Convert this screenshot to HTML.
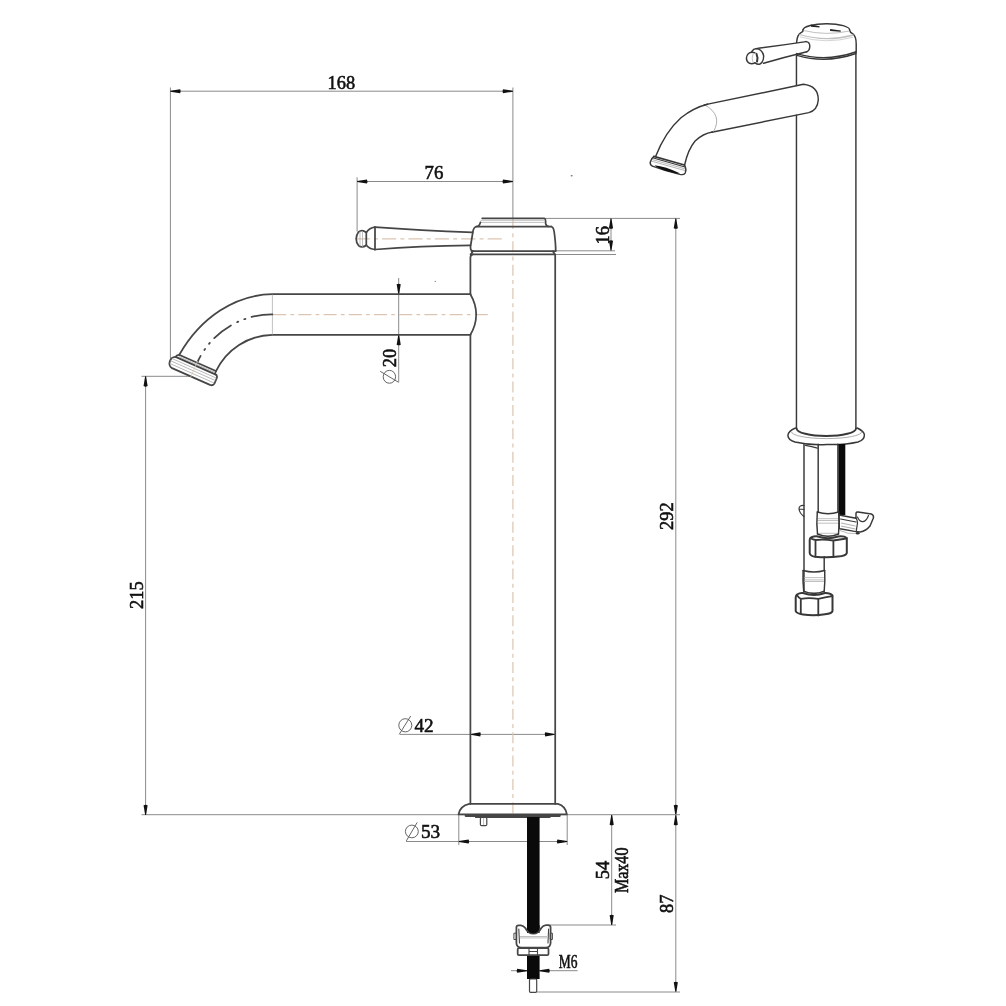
<!DOCTYPE html>
<html><head><meta charset="utf-8"><style>
html,body{margin:0;padding:0;background:#fff;width:1006px;height:1006px;overflow:hidden}
svg{display:block;will-change:transform}
.o{fill:none;stroke:#464646;stroke-width:1.75;stroke-linejoin:round;stroke-linecap:round}
.d{fill:none;stroke:#8a8a8a;stroke-width:1}
.g{fill:none;stroke:#b0b0b0;stroke-width:0.8}
.c{fill:none;stroke:#dcc6b2;stroke-width:1.2;stroke-dasharray:11 4.2 4 4.17}
.a{fill:#111;stroke:none}
.v3 .o{stroke:#383838;stroke-width:1.45}
.t{font-family:"Liberation Serif",serif;font-size:19.8px;fill:#111;stroke:#111;stroke-width:0.6}
.dm{fill:none;stroke:#555;stroke-width:0.9}
</style></head><body>
<svg width="1006" height="1006" viewBox="0 0 1006 1006">
<defs>
<path id="ar" d="M0 -0.45 L-9.8 -2.05 Q-10.9 0 -9.8 2.05 L0 0.45 Z"/>
</defs>

<!-- ============ 2D VIEW ============ -->
<!-- dim 168 -->
<line class="d" x1="170.4" y1="87.5" x2="170.4" y2="361"/>
<line class="d" x1="512.9" y1="87.5" x2="512.9" y2="218"/>
<line class="d" x1="170.4" y1="91.2" x2="512.9" y2="91.2"/>
<use href="#ar" class="a" transform="translate(170.4,91.2) rotate(180)"/>
<use href="#ar" class="a" transform="translate(512.9,91.2)"/>
<text class="t" transform="translate(327.5,88.5) scale(0.93,1)">168</text>

<!-- dim 76 -->
<line class="d" x1="357.1" y1="177.3" x2="357.1" y2="231.5"/>
<line class="d" x1="357.1" y1="181.5" x2="512.9" y2="181.5"/>
<use href="#ar" class="a" transform="translate(357.1,181.5) rotate(180)"/>
<use href="#ar" class="a" transform="translate(512.9,181.5)"/>
<text class="t" transform="translate(424.5,179.2) scale(0.95,1)">76</text>

<!-- dim 16 -->
<line class="d" x1="545" y1="218.4" x2="680" y2="218.4"/>
<line class="d" x1="556" y1="250.8" x2="615" y2="250.8"/>
<line class="d" x1="556" y1="254.5" x2="616" y2="254.5"/>
<line class="d" x1="611" y1="218.4" x2="611" y2="250.6"/>
<use href="#ar" class="a" transform="translate(611,218.4) rotate(-90)"/>
<use href="#ar" class="a" transform="translate(611,250.6) rotate(90)"/>
<text class="t" transform="translate(608.7,244.5) rotate(-90) scale(0.93,1)">16</text>

<!-- dim 292 / 87 -->
<line class="d" x1="675.8" y1="218.4" x2="675.8" y2="992"/>
<use href="#ar" class="a" transform="translate(675.8,218.4) rotate(-90)"/>
<use href="#ar" class="a" transform="translate(675.8,815) rotate(90)"/>
<use href="#ar" class="a" transform="translate(675.8,815) rotate(-90)"/>
<use href="#ar" class="a" transform="translate(675.8,992) rotate(90)"/>
<text class="t" transform="translate(673.2,530) rotate(-90) scale(0.93,1)">292</text>
<text class="t" transform="translate(673.2,913) rotate(-90) scale(0.93,1)">87</text>
<line class="d" x1="537" y1="992" x2="680" y2="992"/>

<!-- floor line -->
<line class="d" x1="141.5" y1="814.7" x2="680" y2="814.7"/>

<!-- dim 215 -->
<line class="d" x1="141.5" y1="376.3" x2="191" y2="376.3"/>
<line class="d" x1="145.6" y1="376.3" x2="145.6" y2="815"/>
<use href="#ar" class="a" transform="translate(145.6,376.3) rotate(-90)"/>
<use href="#ar" class="a" transform="translate(145.6,815) rotate(90)"/>
<text class="t" transform="translate(143,609) rotate(-90) scale(0.93,1)">215</text>

<!-- dim 54 Max40 -->
<line class="d" x1="550" y1="925" x2="616" y2="925"/>
<line class="d" x1="611.7" y1="815" x2="611.7" y2="925"/>
<use href="#ar" class="a" transform="translate(611.7,815) rotate(-90)"/>
<use href="#ar" class="a" transform="translate(611.7,925) rotate(90)"/>

<!-- dim M6 -->
<line class="d" x1="511" y1="970.7" x2="527" y2="970.7"/>
<line class="d" x1="539.4" y1="970.7" x2="577.6" y2="970.7"/>
<use href="#ar" class="a" transform="translate(527,970.7)"/>
<use href="#ar" class="a" transform="translate(539.4,970.7) rotate(180)"/>
<text class="t" transform="translate(558.8,968) scale(0.68,1)">M6</text>

<!-- dim Ø20 -->
<line class="d" x1="398.7" y1="278" x2="398.7" y2="382.4"/>
<use href="#ar" class="a" transform="translate(398.7,294) rotate(90)"/>
<use href="#ar" class="a" transform="translate(398.7,335) rotate(-90)"/>

<!-- dim Ø42 -->
<line class="d" x1="400" y1="734.4" x2="555" y2="734.4"/>
<use href="#ar" class="a" transform="translate(470.5,734.4) rotate(180)"/>
<use href="#ar" class="a" transform="translate(555,734.4)"/>
<text class="t" transform="translate(414.5,731.8) scale(0.97,1)">42</text>

<!-- dim Ø53 -->
<line class="d" x1="458.8" y1="815" x2="458.8" y2="845"/>
<line class="d" x1="567.2" y1="815" x2="567.2" y2="845"/>
<line class="d" x1="406" y1="841.5" x2="567.2" y2="841.5"/>
<use href="#ar" class="a" transform="translate(458.8,841.5) rotate(180)"/>
<use href="#ar" class="a" transform="translate(567.2,841.5)"/>
<text class="t" transform="translate(421,838.2) scale(0.97,1)">53</text>

<!-- centre lines -->
<line class="c" x1="512.9" y1="218" x2="512.9" y2="815"/>
<line class="c" style="stroke-dasharray:13 4.3 3.6 4.3" x1="487.8" y1="314.6" x2="272" y2="314.6"/>
<line class="c" style="stroke-dasharray:14.2 4.1 3.9 4.2" x1="501.8" y1="238.8" x2="355.5" y2="238.8"/>

<!-- body -->
<path class="o" d="M470.4 294.2 L470.4 257.5 Q470.6 254.4 473 254.3 M470.4 334.8 L470.4 803.9"/>
<path class="o" d="M555.2 255 L555.2 803.9"/>
<!-- cap -->
<path class="o" d="M482.2 218.3 L544.3 218.3 Q545.6 218.6 545.6 221 L545.6 223.5 Q546 226.3 549 226.5"/>
<line class="g" x1="480.5" y1="220.3" x2="544.5" y2="220.3"/>
<line class="g" x1="480.5" y1="222.4" x2="544.5" y2="222.4"/>
<path class="o" d="M480.4 222.4 Q479.5 226.3 476.5 226.5 Q473.5 227 472.8 232.4 L470.5 246.5 Q470.3 251 473 251.1"/>
<line class="o" x1="476" y1="226.5" x2="551.3" y2="226.5"/>
<path class="o" d="M551.3 226.5 Q553.5 227 554.2 232 Q555.7 243 555.7 250.5"/>
<line class="o" x1="471.5" y1="251.1" x2="555.7" y2="251.1"/>
<path class="o" d="M472.8 251.3 L471 254.2 M552.8 251.3 L554.8 254.2"/>
<line class="o" x1="470.5" y1="254.3" x2="555" y2="254.3"/>
<!-- lever -->
<path class="o" d="M366.3 232.5 Q362 229 358.5 232 Q356.2 235 356.2 238.8 Q356.2 243 358.5 245.5 Q362 248.5 366.3 245.3 Z"/>
<line class="g" x1="362.5" y1="231" x2="362.5" y2="246.8"/>
<line class="g" x1="360" y1="231.5" x2="360" y2="246.3"/>
<path class="o" d="M366.3 232.5 Q369.5 228 374.8 227.2 M366.3 245.3 Q369.5 249.2 374.8 249.5"/>
<line class="o" x1="375" y1="227.2" x2="375" y2="249.5"/>
<path class="o" d="M375 227.2 Q420 230.5 472.6 232.4 M375 249.5 Q420 246 470.4 245.4"/>
<!-- spout -->
<path class="o" d="M470.4 294.2 L272.4 294.2 A116 145 0 0 0 179.3 354.8"/>
<path class="o" d="M470.4 334.8 L272.4 334.8 A64 64 0 0 0 216 371.2"/>
<path class="o" d="M470.4 294.2 Q482 314.5 470.4 334.8"/>
<line class="g" x1="272.4" y1="294.5" x2="272.4" y2="334.6"/>
<path class="o" style="stroke-dasharray:21 6.5 1.2 6.5 1.2 7" d="M272.4 314.4 A82 82 0 0 0 198 361"/>
<!-- tip ring -->
<g transform="translate(196,365.85) rotate(23.8)">
<path class="o" d="M-20 -3.3 L20.3 -3.3 L20.6 0 M-20 -3.3 Q-22.3 -2 -22.3 0"/>
<line class="g" x1="-19.5" y1="-1.6" x2="20" y2="-1.6"/>
<line class="o" style="stroke-width:1.8" x1="-22.3" y1="0" x2="22.3" y2="0"/>
<path class="o" d="M-22.5 0.2 Q-26 2 -25.8 6 Q-25.5 11.3 -21 11.8 L20.5 11.8 Q24 11.5 24 8.5 L24 3.5 Q24 0.8 22.3 0.2"/>
<line class="g" x1="-25" y1="3" x2="23.5" y2="3"/>
<line class="g" x1="-25.3" y1="5.6" x2="23.5" y2="5.6"/>
<line class="g" x1="-25" y1="8.4" x2="23.5" y2="8.4"/>
</g>
<line class="c" x1="190.5" y1="377.5" x2="197.5" y2="361.5" style="stroke-dasharray:none;stroke-width:0.8"/>
<!-- base -->
<path class="o" d="M469.3 803.9 L557.9 803.9 Q565.5 806 566.9 814.4 L458.5 814.4 Q460 806 469.3 803.9 Z"/>
<path class="o" style="stroke-width:2.2" d="M465.7 815.8 L559.7 815.8"/>
<path class="o" style="stroke-width:1.8" d="M475.9 817.2 L549.6 817.2"/>
<rect class="o" x="480.4" y="817.5" width="6.4" height="8.2" rx="1.2" style="stroke-width:1.2"/>
<line class="g" x1="483.6" y1="818" x2="483.6" y2="825"/>
<!-- threaded rod -->
<rect x="527" y="817" width="12.6" height="116" rx="0" fill="#0a0a0a"/>
<rect x="527" y="955" width="12.6" height="24" fill="#0a0a0a"/>
<rect class="o" x="529.5" y="979" width="7.2" height="13.3" rx="1" style="stroke-width:1.2"/>
<!-- bracket -->
<path class="o" d="M516.4 927.5 Q516.4 925.3 518.6 925.3 L521 925.3 Q523.5 925.5 525.3 928 Q528 933.5 533.3 933.6 Q538.5 933.5 541.3 928 Q543 925.4 546 925.2 L548.5 925.2 Q550.6 925.4 550.6 927.5 L550.6 943 Q550.3 947.5 546 947.5 L521.5 947.5 Q516.4 947.5 516.4 943 Z" fill="#fff"/>
<path fill="#0a0a0a" d="M527 925 L539.6 925 L539.6 928 Q538.5 933.2 533.3 933.4 Q528 933.2 527 928 Z"/>
<path class="o" style="stroke-width:1.1" d="M518.8 929 L519.5 943 M548.6 929 L548 943"/>
<line class="g" x1="520" y1="936.5" x2="547" y2="936.5"/>
<line class="g" x1="520" y1="937.9" x2="547" y2="937.9"/>
<rect class="o" x="514.3" y="933.2" width="2.1" height="6.3" style="stroke-width:1"/>
<rect class="o" x="550.6" y="933.2" width="1.8" height="6.3" style="stroke-width:1"/>
<rect class="o" x="517.7" y="948" width="30.8" height="7.2" rx="1.2" fill="#fff"/>
<path class="o" style="stroke-width:1.1" d="M529 948.2 L529 955 M537.5 948.2 L537.5 955 M529 951.5 L537.5 951.5"/>

<!-- diameter symbols -->
<g class="dm" transform="translate(405.3,725.3)"><ellipse rx="6.5" ry="6.6"/><line x1="-6.1" y1="9.1" x2="5.4" y2="-9.3"/></g>
<g class="dm" transform="translate(411.85,831.45)"><ellipse rx="6.45" ry="6.35"/><line x1="-5.55" y1="9.45" x2="5.35" y2="-9.05"/></g>
<g class="dm" transform="translate(389.4,376.8)"><ellipse rx="6.2" ry="6.45"/><line x1="9" y1="5.4" x2="-9.2" y2="-5.5"/></g>
<text class="t" transform="translate(396.3,367.2) rotate(-90) scale(0.93,1)">20</text>
<text class="t" transform="translate(609.2,879.3) rotate(-90) scale(0.93,1)">54</text>
<text class="t" transform="translate(627.8,893) rotate(-90) scale(0.81,1)">Max40</text>

<ellipse cx="571.7" cy="175.8" rx="1.1" ry="0.8" fill="#777"/>
<ellipse cx="435.3" cy="281.4" rx="0.8" ry="0.7" fill="#999"/>
<!-- ============ 3D VIEW ============ -->
<g class="v3">
<!-- body -->
<path class="o" d="M796.45 54 L796.45 85.5 M796.45 115.3 L796.45 428.6"/>
<path class="o" d="M855.9 51.5 L855.9 428.6"/>
<!-- cap -->
<path class="o" d="M803 30 A23.35 6.5 0 0 1 849.7 30.3"/>
<path class="o" d="M803 29.8 Q803.5 31.6 801 32.6 Q797.2 34.5 796.6 42.5 M849.7 30.3 Q850 32.5 852.6 33.6 Q856.2 36 856.2 44 L856.2 51.8"/>
<path class="g" d="M803.5 30.5 Q826 36 849.5 31"/>
<path class="g" style="stroke:#c0c0c0;stroke-width:1.3" d="M799.5 34.5 Q826 42.5 853.5 35"/>
<path class="g" style="stroke:#c8c8c8" d="M800 36.8 Q826 44.5 853 37.2"/>
<path fill="#222" d="M810.8 24.4 L819.6 26.2 L819.5 27.6 L811 26.8 Z M830 28.9 L840.8 30.4 L840.7 31.8 L830.2 31 Z"/>
<path class="o" d="M796.8 53.6 Q826 62.5 856.3 51.8"/>
<path class="o" d="M797 55.4 Q826 64 856 53.5"/>
<!-- lever -->
<path class="o" d="M755 52.8 Q751.5 51.3 748.5 53.5 Q746.3 55.5 746.4 58.3 Q746.6 62 749.5 63.3 Q752 64.2 755 62.8"/>
<path class="g" d="M753.2 53.5 Q751 58 753.2 62.7"/>
<path class="o" style="stroke-width:2" d="M756.5 53.8 Q758.2 57.7 757 61.6"/>
<path class="o" d="M751.8 51.5 Q753.5 48.7 756 48.6 Q762 48.8 763.6 55.5 Q764 61.8 760 64 Q757.5 64.7 755 62.8"/>
<path class="o" d="M756 48.6 Q780 45.5 806 41.6 M763.6 63.2 Q785 57 806.8 51.7"/>
<path class="o" d="M806 41.6 Q809.8 42 809.8 46.3 Q809.6 50.8 806.8 51.7"/>
<!-- spout straight -->
<path class="o" d="M704.2 104.9 L803.4 84.3 Q818.3 86 818.3 99.8 Q817.5 110.5 808.8 112.6 L711.7 132.3"/>
<path class="g" style="stroke:#999" d="M704.6 104.8 Q723 115 713.4 131.8"/>
<!-- spout bend -->
<path class="o" d="M707.6 104.3 Q694.2 107.5 681 117.7 Q665 132 655.6 156.6"/>
<path class="o" d="M712.5 132 Q703 133.5 695.1 141 Q688 149.5 684.6 165"/>
<!-- nozzle -->
<g transform="translate(669.15,160.7) rotate(15.8)">
<path class="g" style="stroke:#aaa" d="M-17 3.5 L18 3.5 M-17.3 5.2 L18.5 5.2"/>
<path class="o" d="M-15.7 0 Q-18 2.5 -17.8 6.5 Q-17.5 9.2 -14.6 9.8 Q0 11 13.9 10.3 Q18 10 18.8 7.5 Q19.2 4 17.5 2 Q16.8 0.6 15.7 0"/>
<line class="o" style="stroke-width:1.7" x1="-15.9" y1="0" x2="15.9" y2="0"/>
<line class="o" style="stroke-width:1.2" x1="-16.8" y1="1.7" x2="17" y2="1.7"/>
<path fill="#111" d="M-12.8 8.4 Q-2 6.6 13.6 9.2 Q13 10.6 0 10.7 Q-10 10.3 -12.8 8.4 Z"/>
</g>
<!-- flange -->
<path class="o" style="stroke-width:1.9" d="M796.6 428.4 A29.7 7.6 0 0 0 856 428.4"/>
<path class="o" d="M795.5 428 Q788 431 787.9 435.6 Q788.3 440 795 442 Q810 445.5 826.8 444.5 Q845 445 858 442 Q864.4 440 864.4 435.1 Q864.4 431.5 857.2 428"/>
<path class="g" style="stroke:#999" d="M791.5 431.8 A35.1 6.8 0 0 0 861.7 431.8"/>
<!-- left long tube -->
<path class="o" d="M804 443.6 L804 591.5 M824.2 556.7 L824.2 570.5"/>
<path class="o" style="stroke-width:1.1" d="M805.4 445.4 Q812 446.5 817.4 448.1"/>
<!-- middle tube -->
<path class="o" d="M818.2 444.2 L818.2 512 M837.9 444.2 L837.9 512"/>
<rect x="838.5" y="444" width="6.8" height="71" fill="#0a0a0a"/>
<!-- tab -->
<path class="o" style="stroke-width:1.2" d="M803.9 505.5 Q799 505 799 509 Q799.5 513 803.9 516.5 M799.3 509 L803.9 509.5"/>
<!-- middle ferrule -->
<path class="o" d="M817.3 512 Q828 515.5 838.7 512"/>
<path class="o" d="M817.3 512 Q816.3 524 817.5 534 M838.7 512 Q839.7 524 838.5 534"/>
<path class="g" d="M818 518.7 L838 518.7 M818 520.5 L838 520.5 M818 523.2 L838 523.2 M818.5 533.3 L838 533.3"/>
<path class="o" d="M817.5 534 Q828 538.5 838.5 534"/>
<!-- middle nut -->
<path class="o" style="stroke-width:2" d="M811 537.5 Q815 535.7 818 536.5 Q828 540 838 536.5 Q844 535.7 846.8 538 L846.8 553 Q846 556 838 556.5 Q828 557.8 815 556.7 Q810 556 809.7 553 L809.7 540 Q809.8 538 811 537.5 Z"/>
<path class="o" style="stroke-width:1.8" d="M815.5 540 L815.5 556.5 M833.4 540.5 L833.4 557.2 M811 538.5 Q813 539.5 815.5 540 Q824 539 833.4 540.5 Q840 539.3 846.5 538.5"/>
<!-- lower ferrule -->
<path class="o" d="M803.1 570.5 Q814 573.5 824.7 570.5"/>
<path class="o" d="M803.1 570.5 Q802.6 581 803.7 591.2 M824.7 570.5 Q825.2 581 824.2 591.2"/>
<path class="g" d="M804 577.6 L824 577.6 M804 579.9 L824 579.9 M804 581.5 L824 581.5 M804 592.5 L824 592.5"/>
<path class="o" d="M803.7 591.2 Q814 595.7 824.2 591.2"/>
<!-- lower nut -->
<path class="o" style="stroke-width:2" d="M797 594.5 Q800 592.5 803 593 Q814 597 825 593 Q830 592.8 832.5 595.5 L832.5 611 Q832 613.5 825 614.3 Q814 616 803 614.5 Q796.5 613.5 795.7 611 L795.7 597.5 Q795.8 595.5 797 594.5 Z"/>
<path class="o" style="stroke-width:1.8" d="M800.8 598.9 L800.8 614 M818.3 598.9 L818.3 615.4 M797 595.2 Q799 598 800.8 598.9 Q809 597.5 818.3 598.9 Q825 597.5 832.3 596.2"/>
<!-- clip -->
<path class="o" fill="#fff" d="M839 515 L856 518.2 L856 513 Q856.5 511.8 858 512 L871.3 514 Q873.8 514.8 873.5 517.8 L870 526 Q866 531 860.2 532 L854.5 531.4 L840 528.8 Q839.2 528.5 839.2 527 Z"/>
<path class="o" style="stroke-width:1.2" d="M840.6 519 L856 522 M856 518.2 Q857.5 520 857.5 523 L856.2 531.4 M857.5 517 Q859.5 522 863 521.7 Q866.5 521 868.5 515.5"/>
<path class="g" style="stroke:#999" d="M841 523 L855.5 526 M841 526 L855.5 529"/>
<ellipse cx="857.6" cy="533.3" rx="2" ry="1.3" fill="#333"/>
<path class="g" style="stroke:#aaa" d="M840 530.5 Q848 534.5 856 533.5"/>
</g>
</svg>
</body></html>
